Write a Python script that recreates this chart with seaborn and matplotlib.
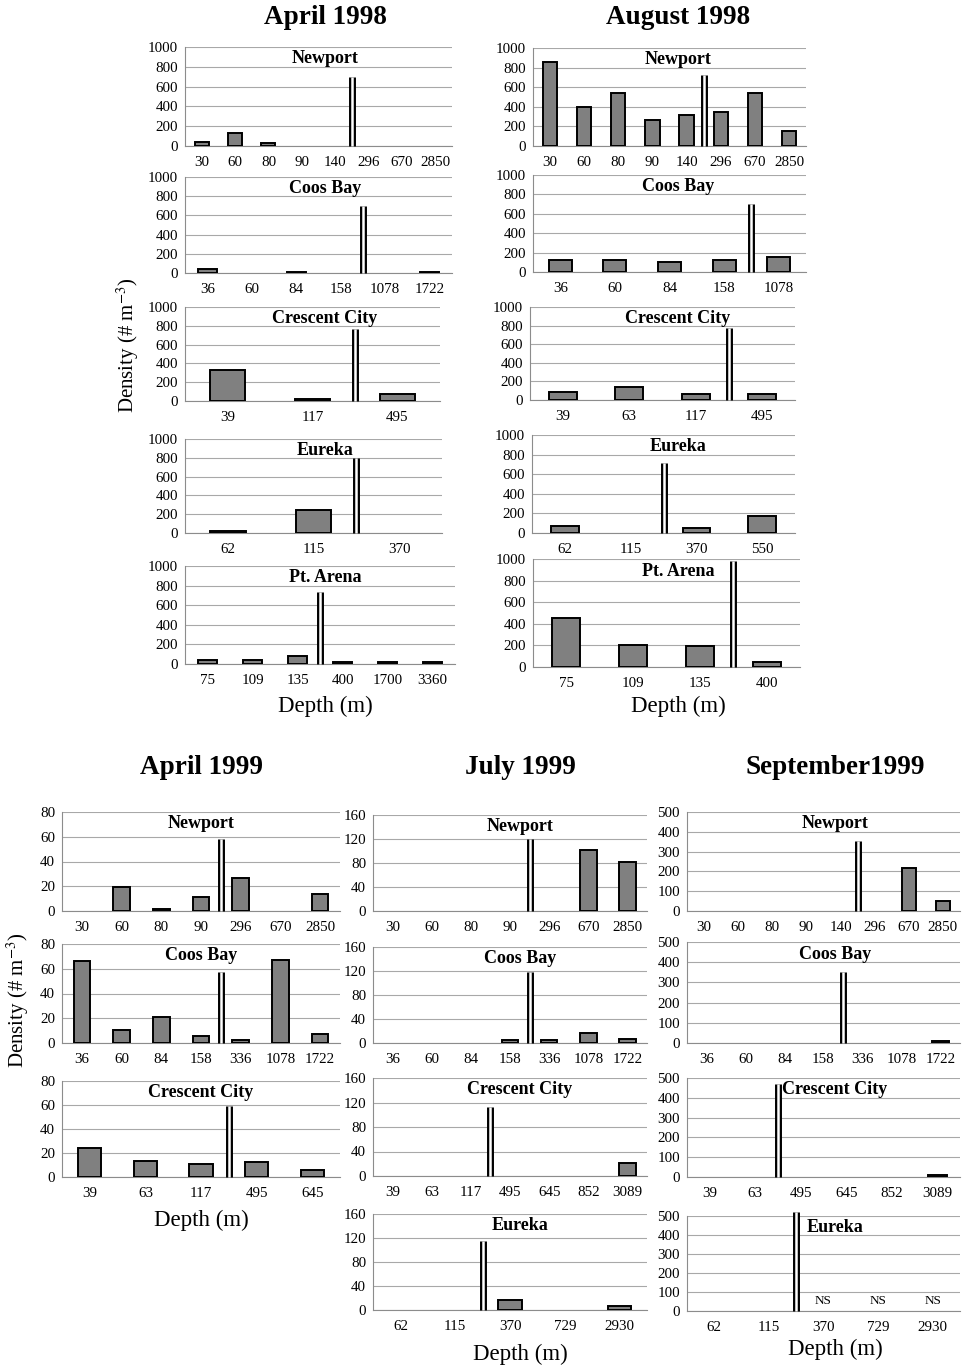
import numpy as np
import matplotlib
matplotlib.use("Agg")
import matplotlib.pyplot as plt
import seaborn as sns

# ---------------- data: density (# m^-3) by station depth ----------------
# April 1998
apr98_newport_depth = ["30", "60", "80", "90", "140", "296", "670", "2850"]
apr98_newport_dens = [40, 135, 30, 0, 0, 0, 0, 0]
apr98_coos_depth = ["36", "60", "84", "158", "1078", "1722"]
apr98_coos_dens = [45, 0, 15, 0, 0, 15]
apr98_crescent_depth = ["39", "117", "495"]
apr98_crescent_dens = [330, 20, 70]
apr98_eureka_depth = ["62", "115", "370"]
apr98_eureka_dens = [20, 250, 0]
apr98_arena_depth = ["75", "109", "135", "400", "1700", "3360"]
apr98_arena_dens = [40, 40, 78, 25, 25, 25]

# August 1998
aug98_newport_depth = ["30", "60", "80", "90", "140", "296", "670", "2850"]
aug98_newport_dens = [855, 400, 537, 263, 317, 343, 537, 150]
aug98_coos_depth = ["36", "60", "84", "158", "1078"]
aug98_coos_dens = [119, 119, 102, 119, 159]
aug98_crescent_depth = ["39", "63", "117", "495"]
aug98_crescent_dens = [88, 137, 60, 60]
aug98_eureka_depth = ["62", "115", "370", "550"]
aug98_eureka_dens = [69, 0, 48, 176]
aug98_arena_depth = ["75", "109", "135", "400"]
aug98_arena_dens = [455, 205, 190, 50]

# April 1999
apr99_newport_depth = ["30", "60", "80", "90", "296", "670", "2850"]
apr99_newport_dens = [0, 19, 2, 11.5, 26.5, 0, 13.5]
apr99_coos_depth = ["36", "60", "84", "158", "336", "1078", "1722"]
apr99_coos_dens = [66, 10.5, 21, 5.3, 2.5, 66.7, 7.2]
apr99_crescent_depth = ["39", "63", "117", "495", "645"]
apr99_crescent_dens = [24.3, 13.3, 10.7, 12.8, 6.1]

# July 1999
jul99_newport_depth = ["30", "60", "80", "90", "296", "670", "2850"]
jul99_newport_dens = [0, 0, 0, 0, 0, 101, 81]
jul99_coos_depth = ["36", "60", "84", "158", "336", "1078", "1722"]
jul99_coos_dens = [0, 0, 0, 5.5, 5.5, 17.5, 7]
jul99_crescent_depth = ["39", "63", "117", "495", "645", "852", "3089"]
jul99_crescent_dens = [0, 0, 0, 0, 0, 0, 21]
jul99_eureka_depth = ["62", "115", "370", "729", "2930"]
jul99_eureka_dens = [0, 0, 16.7, 0, 6.7]

# September 1999 (NaN = not sampled, "NS")
sep99_newport_depth = ["30", "60", "80", "90", "140", "296", "670", "2850"]
sep99_newport_dens = [0, 0, 0, 0, 0, 0, 215, 50]
sep99_coos_depth = ["36", "60", "84", "158", "336", "1078", "1722"]
sep99_coos_dens = [0, 0, 0, 0, 0, 0, 8]
sep99_crescent_depth = ["39", "63", "495", "645", "852", "3089"]
sep99_crescent_dens = [0, 0, 0, 0, 0, 10]
sep99_eureka_depth = ["62", "115", "370", "729", "2930"]
sep99_eureka_dens = [0, 0, np.nan, np.nan, np.nan]

# shelf / slope break: depth after which the axis is broken, and height of the mark
apr98_break_after = ["140", "158", "117", "115", "135"]
apr98_break_top = [700, 700, 770, 800, 730]
aug98_break_after = ["140", "158", "117", "115", "135"]
aug98_break_top = [720, 700, 770, 710, 980]
apr99_break_after = ["90", "158", "117"]
apr99_break_top = [58, 57, 59]
jul99_break_after = ["90", "158", "117", "115"]
jul99_break_top = [120, 118, 112, 115]
sep99_break_after = ["140", "158", "63", "115"]
sep99_break_top = [355, 350, 470, 520]

# ---------------- style ----------------
W, H = 963, 1366
BAR_GREY = "#808080"
AXIS_GREY = "#8c8c8c"
GRID_GREY = "#a8a8a8"

sns.set_theme(style="white")
plt.rcParams["font.family"] = ["Liberation Serif", "DejaVu Serif"]
plt.rcParams["mathtext.fontset"] = "stix"
plt.rcParams["text.color"] = "black"
plt.rcParams["xtick.color"] = "black"
plt.rcParams["ytick.color"] = "black"

fig = plt.figure(figsize=(W / 100, H / 100), dpi=100)
fig.patch.set_facecolor("white")


def px_box(l, t, r, b):
    return [l / W, 1 - b / H, (r - l) / W, (b - t) / H]


def panel(box, site, depth, dens, ymax, ystep, brk_after, brk_top, name_cx):
    ax = fig.add_axes(px_box(*box))
    vals = np.array(dens, dtype=float)
    sns.barplot(x=depth, y=np.nan_to_num(vals), order=depth, ax=ax,
                color=BAR_GREY, saturation=1, edgecolor="black",
                linewidth=1.4, width=0.42, errorbar=None, zorder=3)
    for p in ax.patches:
        if p.get_height() == 0:
            p.set_visible(False)
    n = len(depth)
    ax.set_xlim(-0.5, n - 0.5)
    ax.set_ylim(0, ymax)
    ax.set_yticks(np.arange(0, ymax + 1, ystep))
    ax.set_xticks(np.arange(-0.5, n, 1), minor=True)
    ax.tick_params(axis="x", which="major", length=0, pad=7, labelsize=10.8)
    ax.tick_params(axis="x", which="minor", length=4, color=AXIS_GREY, width=0.8)
    ax.tick_params(axis="y", length=3, color=AXIS_GREY, width=0.8, pad=2, labelsize=10.8)
    ax.yaxis.grid(True, color=GRID_GREY, lw=0.8)
    ax.xaxis.grid(False)
    ax.set_axisbelow(True)
    for s in ["top", "right"]:
        ax.spines[s].set_visible(False)
    for s in ["left", "bottom"]:
        ax.spines[s].set_color(AXIS_GREY)
        ax.spines[s].set_linewidth(0.8)
    ax.set_xlabel("")
    ax.set_ylabel("")
    l, t, r, b = box
    ax.text((name_cx - l) / (r - l), 0.88, site, transform=ax.transAxes,
            ha="center", va="center", fontsize=13, fontweight="bold")
    # not sampled stations
    for i, v in enumerate(vals):
        if np.isnan(v):
            ax.text(i, ymax * 0.1, "NS", ha="center", va="center", fontsize=9.5)
    # double-line axis break
    xb = depth.index(brk_after) + 0.5
    ax.plot([xb, xb], [0, brk_top], color="black", lw=5,
            solid_capstyle="butt", zorder=6, clip_on=False)
    ax.plot([xb, xb], [0, brk_top], color="white", lw=1.8,
            solid_capstyle="butt", zorder=7, clip_on=False)
    return ax


sites5 = ["Newport", "Coos Bay", "Crescent City", "Eureka", "Pt. Arena"]

# April 1998
apr98_boxes = [(185, 47, 452, 146), (185, 177, 452, 273), (185, 307, 440, 401),
               (185, 439, 442, 533), (185, 566, 455, 664)]
apr98_depths = [apr98_newport_depth, apr98_coos_depth, apr98_crescent_depth,
                apr98_eureka_depth, apr98_arena_depth]
apr98_dens = [apr98_newport_dens, apr98_coos_dens, apr98_crescent_dens,
              apr98_eureka_dens, apr98_arena_dens]
for i in range(5):
    panel(apr98_boxes[i], sites5[i], apr98_depths[i], apr98_dens[i], 1000, 200,
          apr98_break_after[i], apr98_break_top[i], 325)

# August 1998
aug98_boxes = [(533, 48, 806, 146), (533, 175, 806, 272), (530, 307, 795, 400),
               (532, 435, 795, 533), (533, 559, 800, 667)]
aug98_depths = [aug98_newport_depth, aug98_coos_depth, aug98_crescent_depth,
                aug98_eureka_depth, aug98_arena_depth]
aug98_dens = [aug98_newport_dens, aug98_coos_dens, aug98_crescent_dens,
              aug98_eureka_dens, aug98_arena_dens]
for i in range(5):
    panel(aug98_boxes[i], sites5[i], aug98_depths[i], aug98_dens[i], 1000, 200,
          aug98_break_after[i], aug98_break_top[i], 678)

# April 1999
apr99_boxes = [(62, 812, 340, 911), (62, 944, 340, 1043), (62, 1081, 340, 1177)]
apr99_depths = [apr99_newport_depth, apr99_coos_depth, apr99_crescent_depth]
apr99_dens = [apr99_newport_dens, apr99_coos_dens, apr99_crescent_dens]
for i in range(3):
    panel(apr99_boxes[i], sites5[i], apr99_depths[i], apr99_dens[i], 80, 20,
          apr99_break_after[i], apr99_break_top[i], 201)

# July 1999
jul99_boxes = [(373, 815, 647, 911), (373, 947, 647, 1043), (373, 1078, 647, 1176),
               (373, 1214, 647, 1310)]
jul99_depths = [jul99_newport_depth, jul99_coos_depth, jul99_crescent_depth,
                jul99_eureka_depth]
jul99_dens = [jul99_newport_dens, jul99_coos_dens, jul99_crescent_dens,
              jul99_eureka_dens]
for i in range(4):
    panel(jul99_boxes[i], sites5[i], jul99_depths[i], jul99_dens[i], 160, 40,
          jul99_break_after[i], jul99_break_top[i], 520)

# September 1999
sep99_boxes = [(687, 812, 960, 911), (687, 942, 960, 1043), (687, 1078, 960, 1177),
               (687, 1216, 960, 1311)]
sep99_depths = [sep99_newport_depth, sep99_coos_depth, sep99_crescent_depth,
                sep99_eureka_depth]
sep99_dens = [sep99_newport_dens, sep99_coos_dens, sep99_crescent_dens,
              sep99_eureka_dens]
for i in range(4):
    panel(sep99_boxes[i], sites5[i], sep99_depths[i], sep99_dens[i], 500, 100,
          sep99_break_after[i], sep99_break_top[i], 835)


# ---------------- titles and axis labels ----------------
def ftext(x, y, s, **kw):
    fig.text(x / W, 1 - y / H, s, ha="center", va="center", **kw)


for x, y, s in [(325, 18, "April 1998"), (678, 18, "August 1998"),
                (201, 768, "April 1999"), (520, 768, "July 1999"),
                (835, 768, "September1999")]:
    ftext(x, y, s, fontsize=19.5, fontweight="bold")

for x, y in [(325, 706), (678, 706), (201, 1220), (520, 1354), (835, 1349)]:
    ftext(x, y, "Depth (m)", fontsize=16.5)

for x, y in [(128, 345), (18, 1000)]:
    ftext(x, y, "Density (# m$^{-3}$)", fontsize=15, rotation=90)

fig.savefig("out.png", dpi=100, facecolor="white")
